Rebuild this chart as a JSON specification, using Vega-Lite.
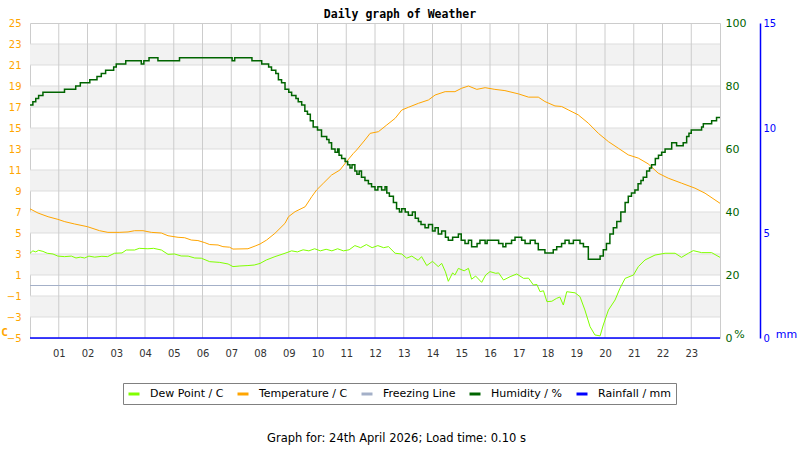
{
  "$schema": "https://vega.github.io/schema/vega-lite/v6.json",
  "autosize": "none",
  "width": 690,
  "height": 315,
  "padding": {"left": 30, "top": 23, "right": 80, "bottom": 112},
  "background": "white",
  "config": {
    "view": {"stroke": "#cccccc"},
    "font": "DejaVu Sans"
  },
  "title": {
    "text": "Daily graph of Weather",
    "font": "DejaVu Sans Mono",
    "fontWeight": "bold",
    "fontSize": 11.5,
    "color": "#000000",
    "anchor": "middle",
    "frame": "group",
    "dx": 25,
    "offset": -3
  },
  "datasets": {
    "bands": [
      {"a": 23, "b": 21}, {"a": 19, "b": 17}, {"a": 15, "b": 13}, {"a": 11, "b": 9},
      {"a": 7, "b": 5}, {"a": 3, "b": 1}, {"a": -1, "b": -3}
    ],
    "hours": [
      {"h": 1}, {"h": 2}, {"h": 3}, {"h": 4}, {"h": 5}, {"h": 6}, {"h": 7}, {"h": 8},
      {"h": 9}, {"h": 10}, {"h": 11}, {"h": 12}, {"h": 13}, {"h": 14}, {"h": 15}, {"h": 16},
      {"h": 17}, {"h": 18}, {"h": 19}, {"h": 20}, {"h": 21}, {"h": 22}, {"h": 23}
    ],
    "tgrid": [
      {"t": -3}, {"t": -1}, {"t": 1}, {"t": 3}, {"t": 5}, {"t": 7}, {"t": 9}, {"t": 11},
      {"t": 13}, {"t": 15}, {"t": 17}, {"t": 19}, {"t": 21}, {"t": 23}
    ],
    "rain": [{"h": 0, "r": 0}, {"h": 24, "r": 0}],
    "temp": [
      {"h": 0.0, "v": 7.3}, {"h": 0.28, "v": 6.9}, {"h": 0.63, "v": 6.55}, {"h": 0.97, "v": 6.3},
      {"h": 1.21, "v": 6.08}, {"h": 1.55, "v": 5.86}, {"h": 2.0, "v": 5.6}, {"h": 2.42, "v": 5.22},
      {"h": 2.71, "v": 5.06}, {"h": 3.1, "v": 5.06}, {"h": 3.41, "v": 5.1}, {"h": 3.64, "v": 5.22},
      {"h": 3.93, "v": 5.22}, {"h": 4.22, "v": 5.06}, {"h": 4.57, "v": 5.0}, {"h": 4.8, "v": 4.74},
      {"h": 5.15, "v": 4.59}, {"h": 5.38, "v": 4.55}, {"h": 5.61, "v": 4.33}, {"h": 5.84, "v": 4.28},
      {"h": 6.08, "v": 4.08}, {"h": 6.25, "v": 3.9}, {"h": 6.54, "v": 3.86}, {"h": 6.71, "v": 3.7},
      {"h": 6.94, "v": 3.65}, {"h": 7.06, "v": 3.47}, {"h": 7.58, "v": 3.5}, {"h": 7.83, "v": 3.76},
      {"h": 8.0, "v": 3.95}, {"h": 8.23, "v": 4.33}, {"h": 8.52, "v": 4.97}, {"h": 8.87, "v": 5.92},
      {"h": 8.99, "v": 6.55}, {"h": 9.22, "v": 7.03}, {"h": 9.57, "v": 7.5}, {"h": 9.8, "v": 8.46},
      {"h": 9.97, "v": 9.1}, {"h": 10.2, "v": 9.73}, {"h": 10.49, "v": 10.52}, {"h": 10.78, "v": 11.0},
      {"h": 11.01, "v": 11.8}, {"h": 11.25, "v": 12.59}, {"h": 11.36, "v": 12.9}, {"h": 11.65, "v": 13.86},
      {"h": 11.83, "v": 14.49}, {"h": 12.12, "v": 14.65}, {"h": 12.41, "v": 15.29}, {"h": 12.7, "v": 15.92},
      {"h": 12.93, "v": 16.71}, {"h": 13.16, "v": 16.97}, {"h": 13.51, "v": 17.35}, {"h": 13.86, "v": 17.67},
      {"h": 14.09, "v": 18.14}, {"h": 14.44, "v": 18.46}, {"h": 14.78, "v": 18.46}, {"h": 15.01, "v": 18.78},
      {"h": 15.25, "v": 19.0}, {"h": 15.54, "v": 18.68}, {"h": 15.83, "v": 18.84}, {"h": 16.17, "v": 18.68},
      {"h": 16.52, "v": 18.56}, {"h": 16.99, "v": 18.25}, {"h": 17.34, "v": 17.94}, {"h": 17.68, "v": 17.94},
      {"h": 17.91, "v": 17.52}, {"h": 18.26, "v": 17.1}, {"h": 18.49, "v": 17.05}, {"h": 18.72, "v": 16.73},
      {"h": 19.07, "v": 16.25}, {"h": 19.42, "v": 15.46}, {"h": 19.77, "v": 14.49}, {"h": 20.12, "v": 13.7},
      {"h": 20.46, "v": 13.08}, {"h": 20.81, "v": 12.44}, {"h": 21.16, "v": 12.13}, {"h": 21.5, "v": 11.59},
      {"h": 21.85, "v": 10.7}, {"h": 22.2, "v": 10.22}, {"h": 22.66, "v": 9.75}, {"h": 23.13, "v": 9.27},
      {"h": 23.48, "v": 8.79}, {"h": 24.0, "v": 7.83}
    ],
    "dew": [
      {"h": 0.0, "v": 3.07}, {"h": 0.1, "v": 3.3}, {"h": 0.2, "v": 3.2}, {"h": 0.3, "v": 3.35},
      {"h": 0.45, "v": 3.25}, {"h": 0.6, "v": 3.07}, {"h": 0.8, "v": 3.0}, {"h": 0.97, "v": 2.8},
      {"h": 1.2, "v": 2.75}, {"h": 1.44, "v": 2.8}, {"h": 1.6, "v": 2.62}, {"h": 1.75, "v": 2.7},
      {"h": 1.9, "v": 2.62}, {"h": 2.05, "v": 2.8}, {"h": 2.25, "v": 2.7}, {"h": 2.5, "v": 2.78},
      {"h": 2.7, "v": 2.75}, {"h": 2.94, "v": 3.07}, {"h": 3.2, "v": 3.1}, {"h": 3.35, "v": 3.38},
      {"h": 3.64, "v": 3.38}, {"h": 3.8, "v": 3.54}, {"h": 4.1, "v": 3.5}, {"h": 4.3, "v": 3.54},
      {"h": 4.57, "v": 3.38}, {"h": 4.8, "v": 2.97}, {"h": 5.03, "v": 3.0}, {"h": 5.26, "v": 2.81},
      {"h": 5.5, "v": 2.8}, {"h": 5.73, "v": 2.62}, {"h": 5.96, "v": 2.6}, {"h": 6.25, "v": 2.27},
      {"h": 6.6, "v": 2.2}, {"h": 6.89, "v": 2.05}, {"h": 7.06, "v": 1.8}, {"h": 7.3, "v": 1.86},
      {"h": 7.58, "v": 1.9}, {"h": 7.8, "v": 1.95}, {"h": 8.0, "v": 2.1}, {"h": 8.22, "v": 2.43},
      {"h": 8.52, "v": 2.75}, {"h": 8.87, "v": 3.07}, {"h": 9.1, "v": 3.3}, {"h": 9.3, "v": 3.2},
      {"h": 9.5, "v": 3.4}, {"h": 9.7, "v": 3.3}, {"h": 9.9, "v": 3.5}, {"h": 10.1, "v": 3.3},
      {"h": 10.3, "v": 3.45}, {"h": 10.5, "v": 3.3}, {"h": 10.7, "v": 3.5}, {"h": 10.9, "v": 3.3},
      {"h": 11.1, "v": 3.4}, {"h": 11.3, "v": 3.8}, {"h": 11.5, "v": 3.6}, {"h": 11.7, "v": 3.9},
      {"h": 11.9, "v": 3.6}, {"h": 12.1, "v": 3.8}, {"h": 12.3, "v": 3.6}, {"h": 12.47, "v": 3.7},
      {"h": 12.7, "v": 3.07}, {"h": 12.93, "v": 3.0}, {"h": 13.1, "v": 2.6}, {"h": 13.28, "v": 2.8},
      {"h": 13.5, "v": 2.4}, {"h": 13.62, "v": 2.75}, {"h": 13.8, "v": 1.9}, {"h": 14.0, "v": 2.3},
      {"h": 14.2, "v": 1.8}, {"h": 14.32, "v": 2.11}, {"h": 14.45, "v": 1.3}, {"h": 14.55, "v": 0.4},
      {"h": 14.7, "v": 1.2}, {"h": 14.78, "v": 1.0}, {"h": 14.9, "v": 1.63}, {"h": 15.1, "v": 1.4},
      {"h": 15.25, "v": 1.63}, {"h": 15.36, "v": 0.6}, {"h": 15.5, "v": 0.9}, {"h": 15.71, "v": 0.3},
      {"h": 15.85, "v": 1.0}, {"h": 16.0, "v": 1.32}, {"h": 16.2, "v": 1.16}, {"h": 16.3, "v": 1.2},
      {"h": 16.47, "v": 0.52}, {"h": 16.7, "v": 0.84}, {"h": 16.93, "v": 1.1}, {"h": 17.17, "v": 0.68},
      {"h": 17.34, "v": 0.7}, {"h": 17.51, "v": 0.05}, {"h": 17.63, "v": 0.1}, {"h": 17.74, "v": -0.59},
      {"h": 17.86, "v": -0.5}, {"h": 17.98, "v": -1.54}, {"h": 18.15, "v": -1.5}, {"h": 18.32, "v": -1.22},
      {"h": 18.43, "v": -1.1}, {"h": 18.55, "v": -1.86}, {"h": 18.67, "v": -0.59}, {"h": 18.96, "v": -0.7},
      {"h": 19.13, "v": -1.06}, {"h": 19.3, "v": -2.33}, {"h": 19.48, "v": -3.92}, {"h": 19.65, "v": -4.71},
      {"h": 19.83, "v": -4.8}, {"h": 19.94, "v": -3.76}, {"h": 20.12, "v": -2.33}, {"h": 20.35, "v": -1.38},
      {"h": 20.52, "v": -0.27}, {"h": 20.7, "v": 0.68}, {"h": 20.99, "v": 1.0}, {"h": 21.16, "v": 1.8},
      {"h": 21.39, "v": 2.43}, {"h": 21.74, "v": 2.9}, {"h": 22.09, "v": 3.07}, {"h": 22.44, "v": 3.07},
      {"h": 22.66, "v": 2.68}, {"h": 22.9, "v": 3.07}, {"h": 23.07, "v": 3.32}, {"h": 23.36, "v": 3.13},
      {"h": 23.71, "v": 3.13}, {"h": 24.0, "v": 2.68}
    ],
    "hum": [
      {"h": 0.0, "v": 74}, {"h": 0.1, "v": 75}, {"h": 0.2, "v": 76}, {"h": 0.3, "v": 77},
      {"h": 0.45, "v": 78}, {"h": 1.2, "v": 79}, {"h": 1.59, "v": 80}, {"h": 1.75, "v": 81},
      {"h": 2.08, "v": 82}, {"h": 2.33, "v": 83}, {"h": 2.48, "v": 84}, {"h": 2.63, "v": 85},
      {"h": 2.91, "v": 86}, {"h": 3.0, "v": 87}, {"h": 3.33, "v": 88}, {"h": 3.87, "v": 87},
      {"h": 3.96, "v": 88}, {"h": 4.14, "v": 89}, {"h": 4.45, "v": 88}, {"h": 5.2, "v": 89},
      {"h": 7.03, "v": 88}, {"h": 7.12, "v": 89}, {"h": 7.72, "v": 88}, {"h": 8.06, "v": 87},
      {"h": 8.3, "v": 86}, {"h": 8.4, "v": 85}, {"h": 8.55, "v": 84}, {"h": 8.64, "v": 82},
      {"h": 8.75, "v": 81}, {"h": 8.87, "v": 79}, {"h": 9.0, "v": 78}, {"h": 9.1, "v": 77},
      {"h": 9.25, "v": 76}, {"h": 9.33, "v": 75}, {"h": 9.45, "v": 74}, {"h": 9.56, "v": 72},
      {"h": 9.65, "v": 71}, {"h": 9.75, "v": 69}, {"h": 9.85, "v": 67}, {"h": 10.0, "v": 66},
      {"h": 10.14, "v": 64}, {"h": 10.32, "v": 63}, {"h": 10.4, "v": 62}, {"h": 10.49, "v": 60},
      {"h": 10.61, "v": 59}, {"h": 10.7, "v": 60}, {"h": 10.75, "v": 58}, {"h": 10.84, "v": 57},
      {"h": 10.96, "v": 56}, {"h": 11.05, "v": 55}, {"h": 11.13, "v": 54}, {"h": 11.2, "v": 55},
      {"h": 11.3, "v": 53}, {"h": 11.37, "v": 52}, {"h": 11.45, "v": 53}, {"h": 11.53, "v": 51},
      {"h": 11.65, "v": 50}, {"h": 11.77, "v": 49}, {"h": 11.88, "v": 48}, {"h": 12.0, "v": 47},
      {"h": 12.1, "v": 48}, {"h": 12.23, "v": 47}, {"h": 12.35, "v": 48}, {"h": 12.41, "v": 46},
      {"h": 12.5, "v": 45}, {"h": 12.64, "v": 43}, {"h": 12.75, "v": 41}, {"h": 12.85, "v": 40},
      {"h": 12.93, "v": 41}, {"h": 13.05, "v": 40}, {"h": 13.16, "v": 39}, {"h": 13.3, "v": 40},
      {"h": 13.4, "v": 38}, {"h": 13.51, "v": 37}, {"h": 13.6, "v": 36}, {"h": 13.74, "v": 35},
      {"h": 13.86, "v": 36}, {"h": 14.0, "v": 34}, {"h": 14.09, "v": 35}, {"h": 14.2, "v": 33},
      {"h": 14.32, "v": 34}, {"h": 14.45, "v": 32}, {"h": 14.55, "v": 31}, {"h": 14.7, "v": 32},
      {"h": 14.9, "v": 33}, {"h": 15.0, "v": 31}, {"h": 15.13, "v": 30}, {"h": 15.25, "v": 31},
      {"h": 15.36, "v": 29}, {"h": 15.55, "v": 30}, {"h": 15.65, "v": 31}, {"h": 15.83, "v": 30},
      {"h": 15.9, "v": 31}, {"h": 16.3, "v": 30}, {"h": 16.45, "v": 29}, {"h": 16.55, "v": 30},
      {"h": 16.75, "v": 31}, {"h": 16.87, "v": 32}, {"h": 17.1, "v": 31}, {"h": 17.22, "v": 30},
      {"h": 17.4, "v": 31}, {"h": 17.57, "v": 30}, {"h": 17.68, "v": 28}, {"h": 17.91, "v": 27},
      {"h": 18.2, "v": 28}, {"h": 18.32, "v": 29}, {"h": 18.49, "v": 30}, {"h": 18.61, "v": 31},
      {"h": 18.75, "v": 30}, {"h": 18.9, "v": 31}, {"h": 19.13, "v": 30}, {"h": 19.25, "v": 29},
      {"h": 19.42, "v": 25}, {"h": 19.83, "v": 26}, {"h": 19.94, "v": 28}, {"h": 20.05, "v": 30},
      {"h": 20.17, "v": 33}, {"h": 20.29, "v": 35}, {"h": 20.41, "v": 37}, {"h": 20.55, "v": 40},
      {"h": 20.7, "v": 43}, {"h": 20.81, "v": 45}, {"h": 20.92, "v": 46}, {"h": 21.04, "v": 47},
      {"h": 21.15, "v": 49}, {"h": 21.25, "v": 50}, {"h": 21.33, "v": 51}, {"h": 21.45, "v": 53},
      {"h": 21.55, "v": 54}, {"h": 21.62, "v": 55}, {"h": 21.75, "v": 57}, {"h": 21.86, "v": 58},
      {"h": 21.97, "v": 59}, {"h": 22.09, "v": 60}, {"h": 22.32, "v": 62}, {"h": 22.49, "v": 61},
      {"h": 22.72, "v": 62}, {"h": 22.84, "v": 64}, {"h": 22.92, "v": 65}, {"h": 23.0, "v": 66},
      {"h": 23.36, "v": 67}, {"h": 23.42, "v": 68}, {"h": 23.71, "v": 69}, {"h": 23.88, "v": 70},
      {"h": 24.0, "v": 70}
    ]
  },
  "layer": [
    {
      "data": {"name": "bands"},
      "mark": {"type": "rect", "color": "#f2f2f2"},
      "encoding": {
        "y": {
          "field": "a",
          "type": "quantitative",
          "scale": {"domain": [-5, 25], "nice": false, "zero": false},
          "axis": {
            "values": [-5, -3, -1, 1, 3, 5, 7, 9, 11, 13, 15, 17, 19, 21, 23, 25],
            "domain": false,
            "ticks": false,
            "grid": false,
            "labelFlush": false,
            "labelColor": "#FFA500",
            "labelFontSize": 10,
            "labelPadding": 9,
            "title": "C",
            "titleAngle": 0,
            "titleColor": "#FFA500",
            "titleFont": "DejaVu Sans Mono",
            "titleFontWeight": "bold",
            "titleFontSize": 11,
            "titleX": -26,
            "titleY": 309,
            "titleAlign": "center",
            "titleBaseline": "middle"
          }
        },
        "y2": {"field": "b"}
      }
    },
    {
      "data": {"name": "tgrid"},
      "mark": {"type": "rule", "color": "#dddddd", "strokeWidth": 1},
      "encoding": {
        "y": {"field": "t", "type": "quantitative", "scale": {"domain": [-5, 25], "nice": false, "zero": false}, "axis": null}
      }
    },
    {
      "data": {"name": "hours"},
      "mark": {"type": "rule", "color": "#cccccc", "strokeWidth": 1},
      "encoding": {
        "x": {
          "field": "h",
          "type": "quantitative",
          "scale": {"domain": [0, 24], "nice": false, "zero": false},
          "axis": {
            "orient": "bottom",
            "values": [1, 2, 3, 4, 5, 6, 7, 8, 9, 10, 11, 12, 13, 14, 15, 16, 17, 18, 19, 20, 21, 22, 23],
            "labelExpr": "datum.value < 10 ? '0' + datum.value : '' + datum.value",
            "labelOverlap": false,
            "domain": false,
            "ticks": false,
            "grid": false,
            "labelFlush": false,
            "labelColor": "#333333",
            "labelFontSize": 10,
            "labelPadding": 10,
            "title": "Graph for: 24th April 2026; Load time: 0.10 s",
            "titleFont": "DejaVu Sans",
            "titleFontWeight": "normal",
            "titleFontSize": 11.5,
            "titleColor": "#000000",
            "titleX": 366,
            "titleY": 100,
            "titleAlign": "center",
            "titleBaseline": "middle"
          }
        }
      }
    },
    {
      "data": {"values": [{}]},
      "mark": {"type": "rule", "strokeWidth": 1},
      "encoding": {
        "y": {"datum": 0, "type": "quantitative", "scale": {"domain": [-5, 25], "nice": false, "zero": false}, "axis": null},
        "color": {"datum": "Freezing Line"}
      }
    },
    {
      "data": {"name": "dew"},
      "mark": {"type": "line", "strokeWidth": 1},
      "encoding": {
        "x": {"field": "h", "type": "quantitative", "axis": null},
        "y": {"field": "v", "type": "quantitative", "scale": {"domain": [-5, 25], "nice": false, "zero": false}, "axis": null},
        "color": {
          "datum": "Dew Point / C",
          "scale": {
            "domain": ["Dew Point / C", "Temperature / C", "Freezing Line", "Humidity / %", "Rainfall / mm"],
            "range": ["#80FF00", "#FFA500", "#A4B0C8", "#006400", "#0000FF"]
          },
          "legend": {
            "title": null,
            "orient": "none",
            "legendX": 93,
            "legendY": 360,
            "direction": "horizontal",
            "gridAlign": "none",
            "strokeColor": "#808080",
            "fillColor": "#ffffff",
            "padding": 4,
            "symbolType": "stroke",
            "symbolSize": 121,
            "symbolStrokeWidth": 3,
            "labelFont": "DejaVu Sans",
            "labelFontSize": 11,
            "labelColor": "#000000",
            "labelOffset": 9,
            "columnPadding": 7
          }
        }
      }
    },
    {
      "data": {"name": "temp"},
      "mark": {"type": "line", "strokeWidth": 1},
      "encoding": {
        "x": {"field": "h", "type": "quantitative", "axis": null},
        "y": {"field": "v", "type": "quantitative", "scale": {"domain": [-5, 25], "nice": false, "zero": false}, "axis": null},
        "color": {"datum": "Temperature / C"}
      }
    },
    {
      "data": {"name": "hum"},
      "mark": {"type": "line", "strokeWidth": 1.5, "interpolate": "step-after"},
      "encoding": {
        "x": {"field": "h", "type": "quantitative", "axis": null},
        "y": {
          "field": "v",
          "type": "quantitative",
          "scale": {"domain": [0, 100], "nice": false},
          "axis": {
            "orient": "right",
            "values": [0, 20, 40, 60, 80, 100],
            "domain": false,
            "ticks": false,
            "grid": false,
            "labelFlush": false,
            "labelColor": "#006400",
            "labelFontSize": 11,
            "labelPadding": 5,
            "title": "%",
            "titleAngle": 0,
            "titleColor": "#006400",
            "titleFontWeight": "normal",
            "titleFontSize": 11,
            "titleX": 19,
            "titleY": 311,
            "titleAlign": "center",
            "titleBaseline": "middle"
          }
        },
        "color": {"datum": "Humidity / %"}
      }
    },
    {
      "data": {"name": "rain"},
      "mark": {"type": "line", "strokeWidth": 1.5},
      "encoding": {
        "x": {"field": "h", "type": "quantitative", "axis": null},
        "y": {
          "field": "r",
          "type": "quantitative",
          "scale": {"domain": [0, 15], "nice": false},
          "axis": {
            "orient": "right",
            "offset": 40,
            "values": [0, 5, 10, 15],
            "domain": true,
            "domainColor": "#0000FF",
            "domainWidth": 1.5,
            "ticks": false,
            "grid": false,
            "labelFlush": false,
            "labelColor": "#0000FF",
            "labelFontSize": 10,
            "labelPadding": 3,
            "title": "mm",
            "titleAngle": 0,
            "titleColor": "#0000FF",
            "titleFontWeight": "normal",
            "titleFontSize": 11,
            "titleX": 26,
            "titleY": 311,
            "titleAlign": "center",
            "titleBaseline": "middle"
          }
        },
        "color": {"datum": "Rainfall / mm"}
      }
    }
  ],
  "resolve": {"scale": {"y": "independent"}, "axis": {"x": "independent"}}
}
